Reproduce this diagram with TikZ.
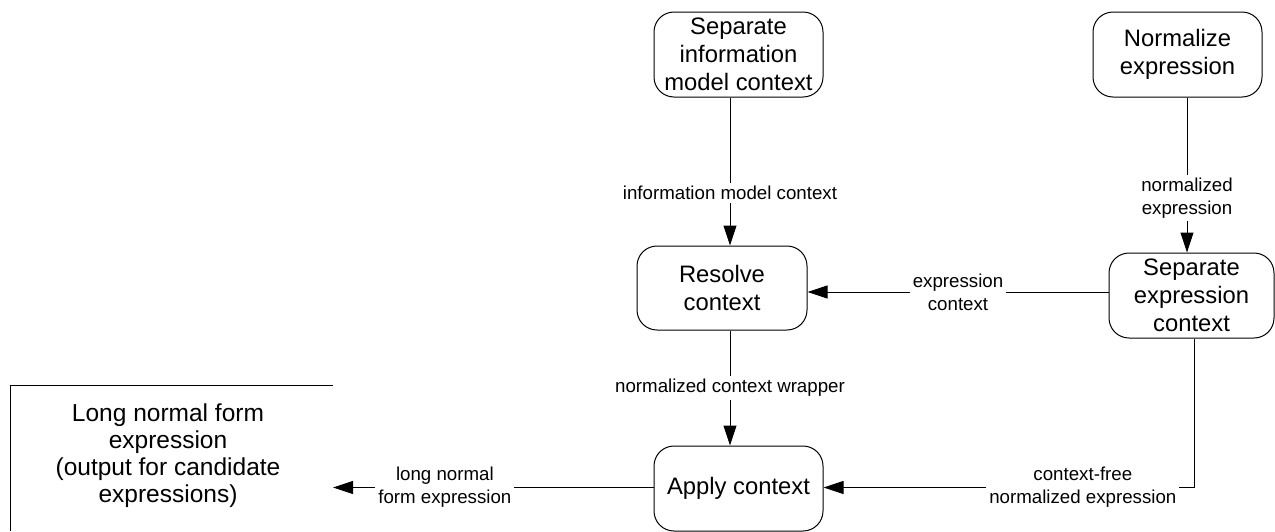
\documentclass[tikz,border=0pt]{standalone}
\usepackage{fontspec}
\setmainfont{Liberation Sans}
\usetikzlibrary{arrows.meta}
\begin{document}
\begin{tikzpicture}[x=1pt,y=-1pt,
  process/.style={draw, line width=1pt, rounded corners=20pt, align=center,
    inner sep=0pt, font=\fontsize{23.8}{28}\selectfont},
  flowlbl/.style={fill=white, align=center, inner sep=3pt,
    font=\fontsize{18.7}{23}\selectfont},
  flow/.style={line width=1pt, -{Triangle[length=20pt,width=13pt]}},
  storetext/.style={align=center, inner sep=0pt, font=\fontsize{24.5}{27}\selectfont}]
\useasboundingbox (0,0) rectangle (1275,531);

% processes
\node[process, minimum width=169pt, minimum height=85pt] (sim) at (738.5,54.5)
  {Separate\\information\\model context};
\node[process, minimum width=169pt, minimum height=85pt] (norm) at (1177.5,54.5)
  {Normalize\\expression};
\node[process, minimum width=165pt, minimum height=85pt] (sepx) at (1191.5,295.5)
  {Separate\\expression\\context};
\node[process, minimum width=170pt, minimum height=84pt] (res) at (722,288)
  {Resolve\\context};
\node[process, minimum width=169pt, minimum height=85pt] (app) at (738.5,488.5)
  {Apply context};

% output store (open box)
\node[storetext] (lnf) at (168,456)
  {Long normal form\\expression\\(output for candidate\\expressions)};
\draw[line width=1pt] (333,385) -- (10,385) -- (10,531);
\coordinate (lnfin) at (333,487.5);
\coordinate (bend) at (1194,487.5);

% flows
\draw[flow] ([xshift=-8.5pt]sim.south) --
  node[flowlbl, pos=0.644] {information model context} ([xshift=8pt]res.north);
\draw[flow] ([xshift=9.5pt]norm.south) --
  node[flowlbl, pos=0.647] {normalized\\expression} ([xshift=-4.5pt]sepx.north);
\draw[flow] ([yshift=3.5pt]sepx.west) --
  node[flowlbl, pos=0.5] {expression\\context} ([yshift=-4pt]res.east);
\draw[flow] ([xshift=8pt]res.south) --
  node[flowlbl, pos=0.5] {normalized context wrapper} ([xshift=-8.5pt]app.north);
\draw[flow] ([xshift=2.5pt]sepx.south) -- (bend) --
  node[flowlbl, pos=0.3] {context-free\\normalized expression} ([yshift=1pt]app.east);
\draw[flow] ([yshift=1pt]app.west) --
  node[flowlbl, pos=0.651] {long normal\\form expression} (lnfin);
\end{tikzpicture}
\end{document}
